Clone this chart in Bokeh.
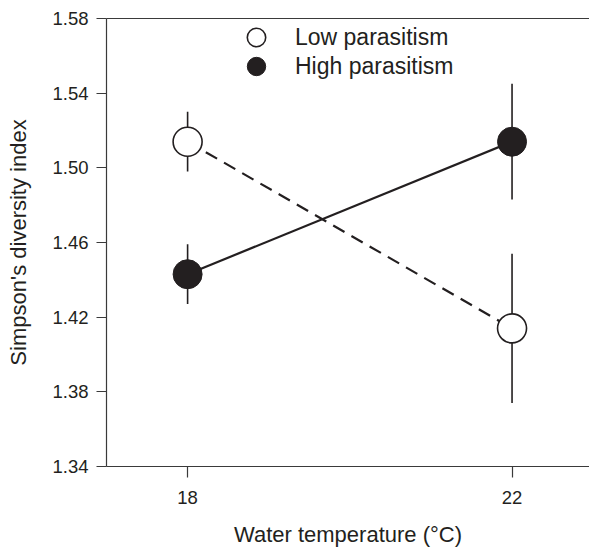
from bokeh.plotting import figure
from bokeh.models import (ColumnDataSource, Legend, LegendItem, FixedTicker,
                          LinearAxis, Range1d, PrintfTickFormatter)
from bokeh.embed import file_html
from bokeh.resources import INLINE

# ---- data ----
temps = [18, 22]
low_mean = [1.514, 1.414]
low_lower = [1.498, 1.374]
low_upper = [1.530, 1.454]
high_mean = [1.443, 1.514]
high_lower = [1.427, 1.483]
high_upper = [1.459, 1.545]
y_ticks = [1.34, 1.38, 1.42, 1.46, 1.50, 1.54, 1.58]
x_ticks = [18, 22]
series_names = ["Low parasitism", "High parasitism"]

INK = "#231f20"
AXIS = "#3a3a3a"
FONT = "Liberation Sans"

low_src = ColumnDataSource(dict(x=temps, y=low_mean, lo=low_lower, hi=low_upper))
high_src = ColumnDataSource(dict(x=temps, y=high_mean, lo=high_lower, hi=high_upper))

p = figure(width=589, height=549, output_backend="svg", toolbar_location=None,
           x_range=Range1d(17, 22.955), y_range=Range1d(1.34, 1.58),
           min_border_left=106, min_border_right=0, min_border_top=18,
           min_border_bottom=79)
p.outline_line_color = None
p.xgrid.visible = False
p.ygrid.visible = False
p.background_fill_color = "white"
p.border_fill_color = "white"

# error bars
p.segment(x0="x", y0="lo", x1="x", y1="hi", source=high_src, line_color=INK, line_width=1.6)
p.segment(x0="x", y0="lo", x1="x", y1="hi", source=low_src, line_color=INK, line_width=1.6)

# connecting lines
p.line(x="x", y="y", source=low_src, line_color=INK, line_width=2.2, line_dash="13 8")
p.line(x="x", y="y", source=high_src, line_color=INK, line_width=2.2)

# markers
r_low = p.scatter(x="x", y="y", source=low_src, size=29, marker="circle",
                  fill_color="white", line_color=INK, line_width=1.6)
r_high = p.scatter(x="x", y="y", source=high_src, size=29, marker="circle",
                   fill_color=INK, line_color=INK, line_width=1)

# axes
for ax in (p.xaxis[0], p.yaxis[0]):
    ax.axis_line_color = AXIS
    ax.axis_line_width = 1.2
    ax.major_tick_line_color = AXIS
    ax.major_tick_line_width = 1.2
    ax.major_tick_in = 0
    ax.minor_tick_line_color = None
    ax.major_label_text_font = FONT
    ax.major_label_text_font_size = "18.5px"
    ax.major_label_text_color = INK
    ax.axis_label_text_font = FONT
    ax.axis_label_text_font_size = "22px"
    ax.axis_label_text_font_style = "normal"
    ax.axis_label_text_color = INK

p.xaxis[0].ticker = FixedTicker(ticks=x_ticks)
p.xaxis[0].major_tick_out = 11
p.xaxis[0].major_label_standoff = 13
p.xaxis[0].axis_label = "Water temperature (°C)"
p.xaxis[0].axis_label_standoff = 15

p.yaxis[0].ticker = FixedTicker(ticks=y_ticks)
p.yaxis[0].formatter = PrintfTickFormatter(format="%.2f")
p.yaxis[0].major_tick_out = 10
p.yaxis[0].major_label_standoff = 8
p.yaxis[0].axis_label = "Simpson's diversity index"
p.yaxis[0].axis_label_standoff = 18

# top frame line
top = LinearAxis(ticker=FixedTicker(ticks=[]), axis_line_color=AXIS,
                 axis_line_width=1.2, major_tick_out=0, major_tick_in=0,
                 minor_tick_line_color=None, major_label_text_font_size="0px")
p.add_layout(top, "above")

legend_style = dict(orientation="vertical", border_line_color=None,
                    background_fill_alpha=0, label_text_font=FONT,
                    label_text_font_size="23px", label_text_color=INK,
                    glyph_width=46, glyph_height=46, label_height=30,
                    label_standoff=16, spacing=0, padding=0, margin=0)
leg_low = Legend(items=[LegendItem(label=series_names[0], renderers=[r_low])],
                 location=(127, 406), **legend_style)
leg_high = Legend(items=[LegendItem(label=series_names[1], renderers=[r_high])],
                  location=(127, 377), **legend_style)
p.add_layout(leg_low)
p.add_layout(leg_high)

open("out.html", "w").write(file_html(p, INLINE))
